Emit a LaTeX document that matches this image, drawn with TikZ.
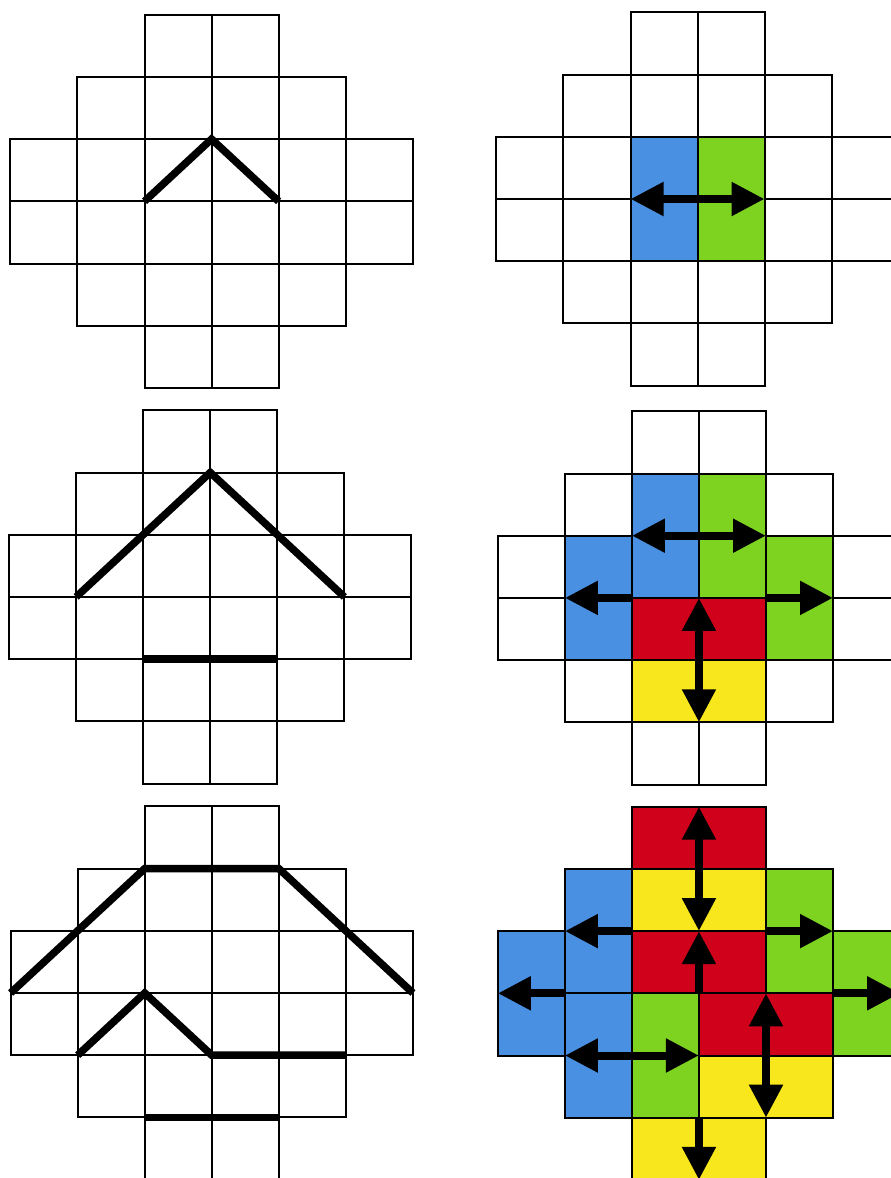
\documentclass[tikz,border=0pt]{standalone}
\usetikzlibrary{arrows.meta}
\definecolor{dblue}{HTML}{4A90E2}
\definecolor{dgreen}{HTML}{7ED321}
\definecolor{dred}{HTML}{D0021B}
\definecolor{dyellow}{HTML}{F8E71C}
\newcommand\cw{67.05}
\newcommand\ch{62.2}
\tikzset{
  cell/.style={draw=black, line width=2pt, fill=white},
  dom/.style={draw=black, line width=2pt},
  thickpath/.style={draw=black, line width=7.5pt, line join=miter},
  arr/.style={line width=8pt, -{Triangle[length=33pt,width=32pt]}},
  darr/.style={line width=8pt, {Triangle[length=33pt,width=32pt]}-{Triangle[length=33pt,width=32pt]}},
}
\newcommand\aztec[3]{%
  \begin{scope}[shift={(#2,#3)}]
    \foreach \i in {0,...,6}{\foreach \j in {0,...,6}{\coordinate (#1-\i-\j) at (\i*\cw,\j*\ch);}}
    \foreach \r/\a/\b in {0/2/3,1/1/4,2/0/5,3/0/5,4/1/4,5/2/3}{
      \foreach \c in {\a,...,\b}{\draw[cell] (\c*\cw,\r*\ch) rectangle ++(\cw,\ch);}}
  \end{scope}}
\begin{document}
\begin{tikzpicture}[x=1pt,y=-1pt]
\useasboundingbox (0,0) rectangle (891,1178);
\fill[white] (0,0) rectangle (891,1178);
\clip (0,0) rectangle (891,1178);
% grids
\aztec{A}{10.4}{14.7}
\aztec{B}{496.4}{12.4}
\aztec{C}{9.1}{410.3}
\aztec{D}{497.8}{411.3}
\aztec{E}{10.6}{806.4}
\aztec{F}{497.8}{806.7}
% left column: thick paths
\draw[thickpath] (A-2-3) -- (A-3-2) -- (A-4-3);
\draw[thickpath] (C-1-3) -- (C-3-1) -- (C-5-3);
\draw[thickpath] (C-2-4) -- (C-4-4);
\draw[thickpath] (E-0-3) -- (E-2-1) -- (E-4-1) -- (E-6-3);
\draw[thickpath] (E-1-4) -- (E-2-3) -- (E-3-4) -- (E-5-4);
\draw[thickpath] (E-2-5) -- (E-4-5);
% top right
\draw[dom, fill=dblue] (B-2-2) rectangle (B-3-4);
\draw[dom, fill=dgreen] (B-3-2) rectangle (B-4-4);
\draw[darr] (B-2-3) -- (B-4-3);
% middle right
\draw[dom, fill=dblue] (D-2-1) rectangle (D-3-3);
\draw[dom, fill=dgreen] (D-3-1) rectangle (D-4-3);
\draw[dom, fill=dblue] (D-1-2) rectangle (D-2-4);
\draw[dom, fill=dgreen] (D-4-2) rectangle (D-5-4);
\draw[dom, fill=dred] (D-2-3) rectangle (D-4-4);
\draw[dom, fill=dyellow] (D-2-4) rectangle (D-4-5);
\draw[darr] (D-2-2) -- (D-4-2);
\draw[arr] (D-2-3) -- (D-1-3);
\draw[arr] (D-4-3) -- (D-5-3);
\draw[darr] (D-3-3) -- (D-3-5);
% bottom right
\draw[dom, fill=dred] (F-2-0) rectangle (F-4-1);
\draw[dom, fill=dyellow] (F-2-1) rectangle (F-4-2);
\draw[dom, fill=dblue] (F-1-1) rectangle (F-2-3);
\draw[dom, fill=dgreen] (F-4-1) rectangle (F-5-3);
\draw[dom, fill=dred] (F-2-2) rectangle (F-4-3);
\draw[dom, fill=dblue] (F-0-2) rectangle (F-1-4);
\draw[dom, fill=dgreen] (F-5-2) rectangle (F-6-4);
\draw[dom, fill=dblue] (F-1-3) rectangle (F-2-5);
\draw[dom, fill=dgreen] (F-2-3) rectangle (F-3-5);
\draw[dom, fill=dred] (F-3-3) rectangle (F-5-4);
\draw[dom, fill=dyellow] (F-3-4) rectangle (F-5-5);
\draw[dom, fill=dyellow] (F-2-5) rectangle (F-4-6);
\draw[darr] (F-3-0) -- (F-3-2);
\draw[arr] (F-2-2) -- (F-1-2);
\draw[arr] (F-4-2) -- (F-5-2);
\draw[arr] (F-3-3) -- (F-3-2);
\draw[arr] (F-1-3) -- (F-0-3);
\draw[arr] (F-5-3) -- (F-6-3);
\draw[darr] (F-1-4) -- (F-3-4);
\draw[darr] (F-4-3) -- (F-4-5);
\draw[arr] (F-3-5) -- (F-3-6);
\end{tikzpicture}
\end{document}
